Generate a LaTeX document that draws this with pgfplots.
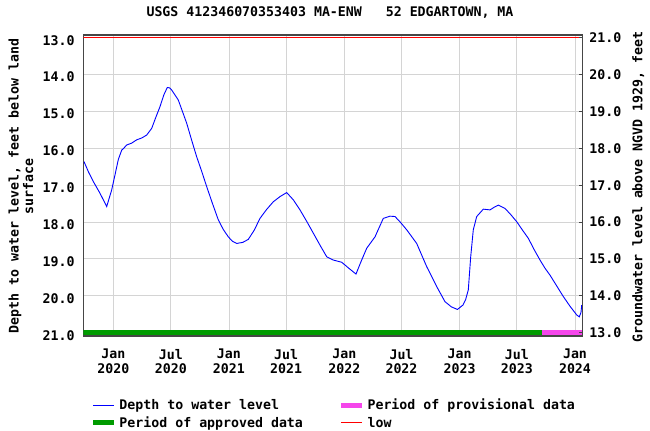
\documentclass[border=0pt]{standalone}
\usepackage{fontspec}
\setmainfont{DejaVu Sans Mono}
\usepackage{pgfplots}
\usepackage{pgfplotstable}
\pgfplotsset{compat=1.18}

\definecolor{approved}{RGB}{0,155,0}
\definecolor{provisional}{RGB}{245,70,235}
\definecolor{gridgray}{RGB}{212,212,212}
\definecolor{framegray}{RGB}{70,70,70}
\newcommand{\labfont}{\fontsize{13.3}{14.5}\selectfont\bfseries}

% days since 1 Jan 2020, depth below land surface (ft)
\pgfplotstableread{
day depth
-92.7 16.36
-78 16.65
-63.3 16.90
-42 17.22
-20.9 17.58
-5.1 17.13
5.4 16.72
16 16.30
26.6 16.05
35 15.98
42.4 15.91
58 15.86
74.1 15.77
90 15.72
105.7 15.64
121.5 15.46
135 15.15
147.8 14.87
160 14.55
170.9 14.35
178 14.36
184.8 14.42
195 14.55
205.7 14.69
218 14.98
232.3 15.32
248 15.78
263.9 16.23
280 16.63
295.6 17.04
314 17.50
332.3 17.94
348 18.20
363.9 18.40
377 18.52
390.5 18.58
410 18.55
427.2 18.47
446 18.22
464.2 17.90
485 17.66
506.3 17.45
527.5 17.31
548.7 17.20
570 17.40
590.8 17.67
612 17.98
632.9 18.30
655 18.64
675.3 18.94
696.2 19.03
722.8 19.09
745 19.25
768 19.41
785 19.05
801.9 18.71
828.2 18.40
854.4 17.90
875.6 17.84
891.5 17.85
910 18.02
928.5 18.21
960.1 18.58
991.8 19.21
1023.4 19.75
1049.7 20.16
1070 20.30
1089 20.37
1106.6 20.25
1115 20.10
1123.4 19.84
1131 18.94
1139.2 18.21
1150 17.85
1170.9 17.65
1192.1 17.67
1205 17.60
1218.4 17.54
1239.6 17.63
1258 17.80
1276.6 17.99
1295 18.22
1313.3 18.44
1332 18.75
1350.3 19.03
1366 19.25
1382 19.44
1403 19.73
1424.1 20.02
1445 20.28
1466.5 20.52
1474.7 20.57
1480 20.45
1482.3 20.25
}\depthdata

\begin{document}
\begin{tikzpicture}
\begin{axis}[
    scale only axis,
    width=499.4bp, height=301bp,
    xmin=-94.9, xmax=1485.4,
    ymin=12.927, ymax=21.09,
    y dir=reverse,
    xtick={0,182,366,547,731,912,1096,1277,1461},
    xticklabels={Jan\\2020,Jul\\2020,Jan\\2021,Jul\\2021,Jan\\2022,Jul\\2022,Jan\\2023,Jul\\2023,Jan\\2024},
    ytick={13,...,21},
    yticklabel={\pgfmathprintnumber[fixed,precision=1,zerofill]{\tick}},
    /pgf/number format/assume math mode=true,
    grid=major,
    major grid style={gridgray, line width=0.9bp},
    axis line style={framegray, line width=1.1bp},
    xtick style={draw=none},
    ytick style={draw=none},
    tick label style={font=\labfont},
    xticklabel style={align=center, inner sep=0pt, yshift=-13bp},
    yticklabel style={inner sep=0pt, xshift=-8.5bp, yshift=-2.5bp},
    title={USGS 412346070353403 MA-ENW\ \ \ 52 EDGARTOWN, MA},
    title style={font=\labfont, at={(axis description cs:0.494,1.076)}, anchor=center, yshift=-6pt},
    ylabel={Depth to water level, feet below land\\surface},
    ylabel style={font=\labfont, align=center, at={(axis description cs:-0.125,0.498)}, anchor=center},
    legend columns=2,
    legend cell align=left,
    legend image code/.code={\draw[#1, line cap=butt] (0bp,0bp) -- (20.6bp,0bp);},
    legend style={draw=none, fill=none, font=\labfont,
        at={(axis description cs:0.0148,-0.205)}, anchor=north west,
        inner sep=0pt, nodes={inner sep=1bp}, row sep=3.5bp,
        /tikz/every odd column/.append style={column sep=2bp},
        /tikz/every even column/.append style={column sep=35bp}},
]
\addplot[blue, line width=0.9bp] table[x=day, y=depth] {\depthdata};
\addlegendentry{Depth to water level}
\addplot[provisional, line width=5bp, line cap=butt] coordinates {(1355.7,21.0) (1485.4,21.0)};
\addlegendentry{Period of provisional data}
\addplot[approved, line width=5bp, line cap=butt] coordinates {(-94.9,21.0) (1355.7,21.0)};
\addlegendentry{Period of approved data}
\addplot[red, line width=1.2bp] coordinates {(-94.9,13.0) (1485.4,13.0)};
\addlegendentry{low}
\end{axis}

\begin{axis}[
    scale only axis,
    width=499.4bp, height=301bp,
    xmin=-94.9, xmax=1485.4,
    ymin=12.91, ymax=21.073,
    axis x line=none,
    axis y line*=right,
    axis line style={-, framegray, line width=1.1bp},
    ytick={13,...,21},
    yticklabel={\pgfmathprintnumber[fixed,precision=1,zerofill]{\tick}},
    /pgf/number format/assume math mode=true,
    tick align=inside,
    major tick length=4bp,
    ytick style={framegray, line width=0.9bp},
    tick label style={font=\labfont},
    yticklabel style={inner sep=0pt, xshift=6.5bp},
    ylabel={Groundwater level above NGVD 1929, feet},
    ylabel style={font=\labfont, at={(axis description cs:1.1113,0.495)}, anchor=center},
]
\addplot[draw=none, forget plot] coordinates {(0,17)};
\end{axis}

\pgfresetboundingbox
\path[use as bounding box] (-83.3bp,-95bp) rectangle (566.7bp,336bp);
\end{tikzpicture}
\end{document}
